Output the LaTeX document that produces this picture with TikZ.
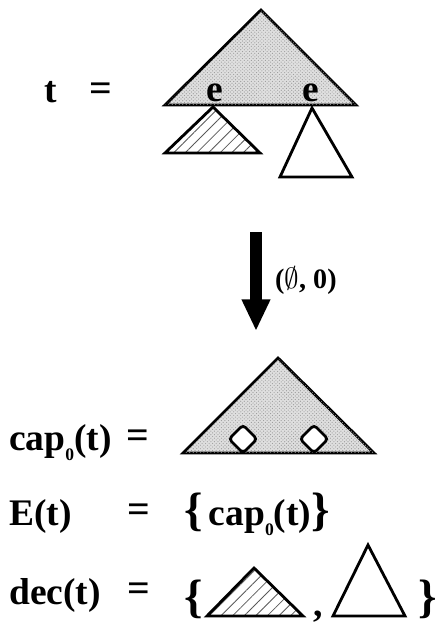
\documentclass[tikz,border=0pt]{standalone}
\usepackage{amssymb}
\usepackage{fontspec}
\setmainfont{Liberation Serif}
\usetikzlibrary{arrows.meta,patterns,patterns.meta}

\newcommand{\capsub}{\raisebox{-0.28em}{\fontsize{15}{15}\selectfont 0}}

\begin{document}
\begin{tikzpicture}[
  x=0.03cm, y=-0.03cm,
  every node/.style={font=\fontsize{32}{34}\selectfont\bfseries, inner sep=0pt},
  capfill/.style={draw, line width=2.4pt, line join=miter, fill=gray!25,
    postaction={pattern=crosshatch dots, pattern color=gray!80}},
  hatchfill/.style={draw, line width=2.4pt, line join=miter,
    pattern={Lines[angle=45,distance=7pt,line width=0.7pt]}, pattern color=gray!70!black},
  plainfill/.style={draw, line width=2.4pt, line join=miter, fill=white},
  hole/.style={draw, line width=2.4pt, fill=white, rounded corners=3pt},
  eqsign/.style={font=\fontsize{34}{34}\selectfont\bfseries},
  >=Latex
]
% 1 unit = 1 px of the 435x628 frame, y runs downwards
\useasboundingbox (0,0) rectangle (435,628);

%% --- t = (top tree with two holes e) ------------------------
\node[anchor=base west] (tlbl) at (44,103) {t};
\node[eqsign] (teq) at (101,92) {=};
\path[capfill] (261,10) -- (356,105) -- (165,105) -- cycle;
\path[hatchfill] (213,107) -- (260,153) -- (165,153) -- cycle;
\path[plainfill] (312,108) -- (352,177) -- (280,177) -- cycle;
\node[anchor=base] (e1) at (215,102) {e};
\node[anchor=base] (e2) at (311,102) {e};

%% --- decomposition arrow -------------------------------------
\coordinate (arrtop) at (256,232);
\coordinate (arrbot) at (256,331);
\draw[line width=0.36cm, -{Triangle[width=0.8cm,length=0.95cm]}] (arrtop) -- (arrbot);
\node[anchor=west, font=\fontsize{24}{26}\selectfont\bfseries] (step0) at (275,281)
     {({\fontsize{28}{28}\selectfont$\emptyset$}, 0)};

%% --- cap_0(t) ------------------------------------------------
\node[anchor=base west] (caplbl) at (9,450) {cap\capsub(t)};
\node[eqsign] (capeq) at (138,439) {=};
\path[capfill] (278,358) -- (374,453) -- (183,453) -- cycle;
\foreach \hx in {243,314}{
  \path[hole] (\hx-14,439) -- (\hx,425) -- (\hx+14,439) -- (\hx,453) -- cycle;
}

%% --- E(t) ----------------------------------------------------
\node[anchor=base west] (elbl) at (9,525) {E(t)};
\node[eqsign] (eeq) at (139,513) {=};
\node[anchor=base west] (eset) at (184,525)
     {{\fontsize{40}{40}\selectfont\{}\,cap\capsub(t){\fontsize{40}{40}\selectfont\}}};

%% --- dec(t) --------------------------------------------------
\node[anchor=base west] (declbl) at (9,604) {dec(t)};
\node[eqsign] (deceq) at (139,592) {=};
\node[anchor=base west, font=\fontsize{40}{40}\selectfont\bfseries] (lbr) at (184,612) {\{};
\path[hatchfill] (254,568) -- (303,616) -- (207,616) -- cycle;
\node[anchor=base] (comma) at (318,616) {,};
\path[plainfill] (368,545) -- (405,616) -- (333,616) -- cycle;
\node[anchor=base west, font=\fontsize{40}{40}\selectfont\bfseries] (rbr) at (418,612) {\}};

\end{tikzpicture}
\end{document}
